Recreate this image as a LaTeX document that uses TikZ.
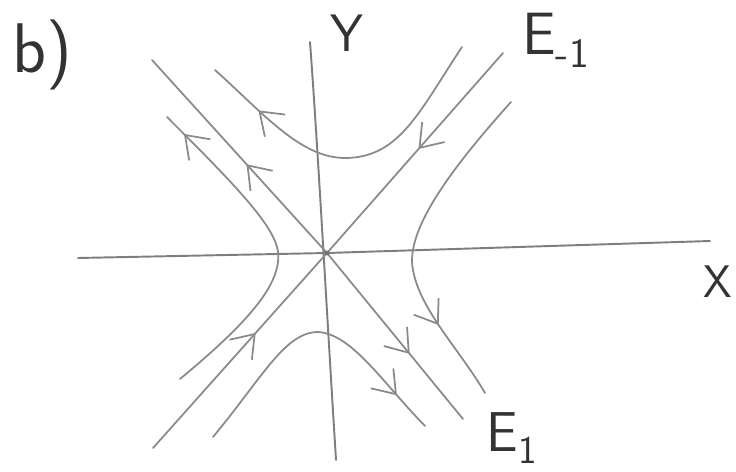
\documentclass[tikz,border=0pt]{standalone}
\usepackage{xcolor}
\usepackage{tikz}
\usetikzlibrary{arrows.meta, decorations.markings}

\definecolor{pencil}{HTML}{8A8A8A}
\definecolor{ink}{HTML}{333333}

\begin{document}
\begin{tikzpicture}[
  x=0.02cm, y=-0.02cm,
  axis/.style={draw=pencil!110, line width=1.1pt, line cap=round},
  orbit/.style={draw=pencil, line width=1.0pt, line cap=round},
  flow/.style={postaction={decorate}, decoration={markings,
    mark=at position #1 with {\arrow{Straight Barb[length=4.2mm, width=6mm]}}}},
  tag/.style={text=ink, font=\sffamily\fontsize{30}{32}\selectfont, inner sep=0pt}
]
  \useasboundingbox (0,0) rectangle (736,472);

  % axes and eigen directions
  \coordinate (O) at (327,253);
  \coordinate (xL) at (78,258);
  \coordinate (xR) at (710,241);
  \coordinate (yT) at (310,42);
  \coordinate (yB) at (336,460);
  \coordinate (e1a) at (152,60);
  \coordinate (e1b) at (463,419);
  \coordinate (ema) at (503,53);
  \coordinate (emb) at (153,448);

  \draw[axis] (xL) -- (O) -- (xR);
  \draw[axis] (yT) .. controls (318,150) and (326,300) .. (yB);

  \draw[orbit, flow=0.46] (O) -- (e1a);
  \draw[orbit, flow=0.61] (O) -- (e1b);
  \draw[orbit, flow=0.48] (ema) -- (O);
  \draw[orbit, flow=0.59] (emb) -- (O);
  \fill[pencil!120] (O) circle (2.5);

  % trajectories
  \draw[orbit, flow=0.82] (462,47) .. controls (420,110) and (400,158) .. (345,158)
    .. controls (300,158) and (262,112) .. (215,70);
  \draw[orbit, flow=0.93] (180,379) .. controls (245,325) and (282,285) .. (278,252)
    .. controls (275,225) and (230,180) .. (167,117);
  \draw[orbit, flow=0.86] (213,437) .. controls (262,378) and (285,332) .. (318,332)
    .. controls (352,334) and (382,382) .. (425,426);
  \draw[orbit, flow=0.76] (511,102) .. controls (448,172) and (405,232) .. (413,270)
    .. controls (420,310) and (460,350) .. (485,393);

  % labels
  \node[tag, font=\sffamily\fontsize{40}{42}\selectfont] (lb) at (42,55) {b)};
  \node[tag] (ly) at (347,33) {Y};
  \node[tag, font=\sffamily\fontsize{34}{36}\selectfont] (lem) at (556,40) {E\textsubscript{-1}};
  \node[tag, font=\sffamily\fontsize{26}{28}\selectfont] (lx) at (718,282) {X};
  \node[tag, font=\sffamily\fontsize{32}{34}\selectfont] (le1) at (512,438) {E\textsubscript{1}};
\end{tikzpicture}
\end{document}
